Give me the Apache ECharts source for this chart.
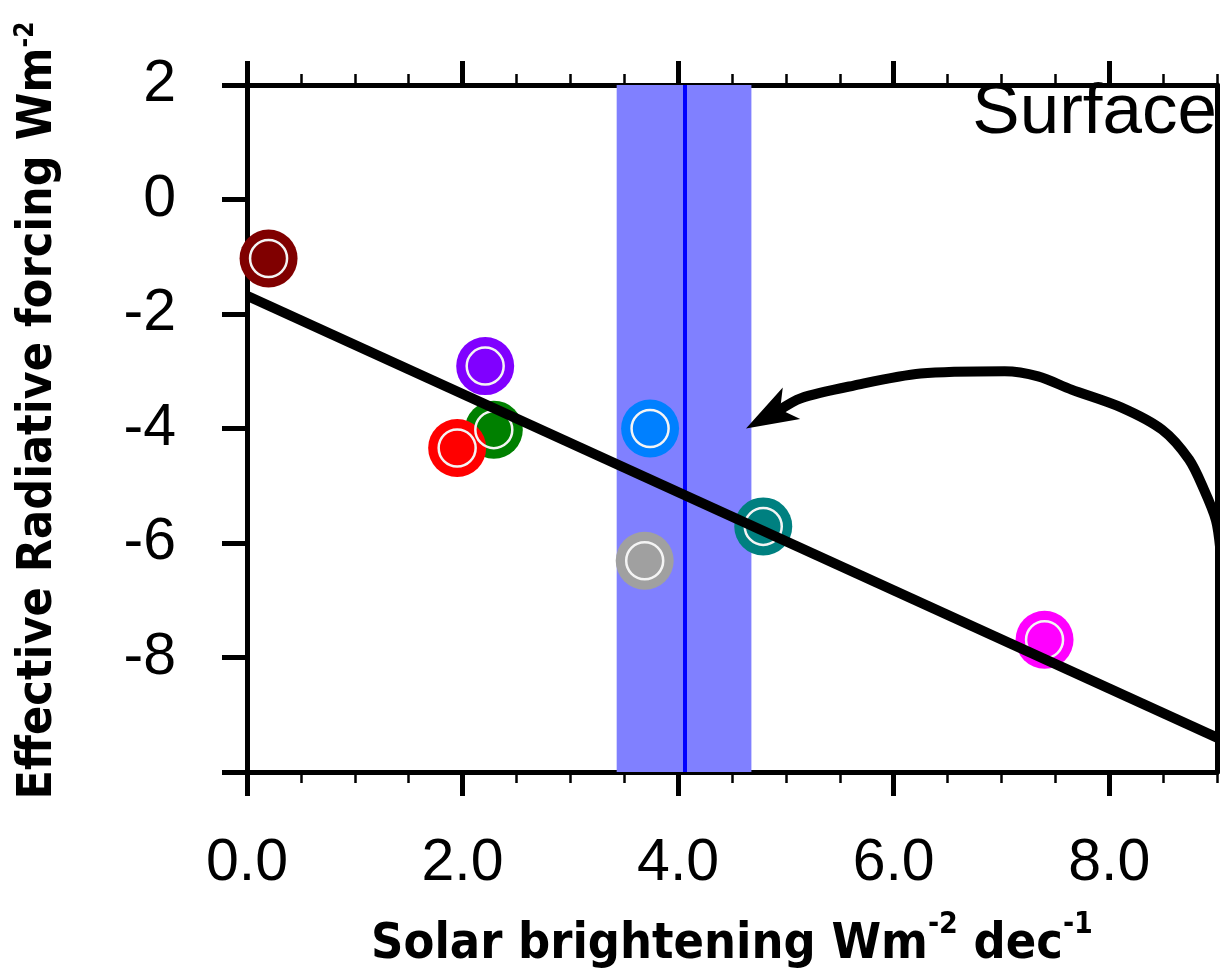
<!DOCTYPE html>
<html>
<head>
<meta charset="utf-8">
<script src="https://cdn.jsdelivr.net/npm/echarts@6/dist/echarts.min.js"></script>
<style>
  html, body { margin: 0; padding: 0; background: #fff; }
  #chart { width: 1220px; height: 979px; }
</style>
</head>
<body>
<div id="chart"></div>
<script>
// model points (solar brightening vs effective radiative forcing)
var modelX = [0.20, 2.21, 2.29, 1.95, 3.74, 3.69, 4.79, 7.40];
var modelY = [-1.03, -2.91, -4.02, -4.34, -4.00, -6.31, -5.71, -7.69];
var modelColors = ['#800000', '#8000ff', '#008000', '#ff0000', '#0080ff', '#a0a0a0', '#008080', '#ff00ff'];

// regression line end points
var fitX = [0, 9];
var fitY = [-1.68, -9.40];

// observed brightening range and mean
var obsRange = [3.43, 4.68];
var obsMean = 4.06;

// hand drawn arrow (data space), tip of the head at arrowTip
var arrowX = [9.03, 8.99, 8.88, 8.74, 8.49, 8.11, 7.65, 7.34, 7.03, 6.25, 5.63, 5.14, 4.93];
var arrowY = [-6.10, -5.60, -5.07, -4.54, -4.02, -3.63, -3.32, -3.09, -3.00, -3.04, -3.25, -3.47, -3.69];
var arrowTip = [4.63, -4.00];

var xTicks = [0, 2, 4, 6, 8];
var yTicks = [2, 0, -2, -4, -6, -8, -10];
var yLabels = [2, 0, -2, -4, -6, -8];

var points = [];
for (var i = 0; i < modelX.length; i++) {
  points.push({ value: [modelX[i], modelY[i]], itemStyle: { color: modelColors[i] } });
}
var rings = [];
for (var j = 0; j < modelX.length; j++) {
  rings.push([modelX[j], modelY[j]]);
}
var fitLine = [];
for (var k = 0; k < fitX.length; k++) {
  fitLine.push([fitX[k], fitY[k]]);
}
var arrowLine = [];
for (var a = 0; a < arrowX.length; a++) {
  arrowLine.push([arrowX[a], arrowY[a]]);
}

var tickFont = 'Liberation Sans, Arial, sans-serif';
var titleFont = "'Liberation Sans Narrow', 'DejaVu Sans Condensed', sans-serif";

function xAxisOf(pos, major) {
  var ax = {
    type: 'value', position: pos, min: 0, max: 9, interval: major ? 2 : 0.5,
    axisLine: { show: major, onZero: false, lineStyle: { color: '#000', width: 5 } },
    axisTick: { show: true, length: major ? 24 : 11, lineStyle: { color: '#000', width: major ? 5 : 2.5 } },
    axisLabel: { show: false },
    splitLine: { show: false }
  };
  if (major) ax.axisTick.customValues = xTicks;
  return ax;
}

var myChart = echarts.init(document.getElementById('chart'));

var option = {
  animation: false,
  backgroundColor: '#fff',
  grid: { left: 247, top: 85, right: 3, bottom: 207, containLabel: false, outerBoundsMode: 'none' },
  title: {
    text: 'Surface', right: 3, top: 78, padding: 0,
    textStyle: { fontFamily: tickFont, fontSize: 71, fontWeight: 'normal', color: '#000' }
  },
  xAxis: [
    (function () {
      var ax = xAxisOf('bottom', true);
      ax.axisLabel = {
        show: true, customValues: xTicks, margin: 62,
        fontFamily: tickFont, fontSize: 59, color: '#000',
        formatter: function (v) { return v.toFixed(1); }
      };
      ax.name = '{m|Solar brightening Wm}{s|-2}{m| dec}{s|-1}';
      ax.nameLocation = 'middle';
      ax.nameGap = 138;
      ax.nameTextStyle = {
        rich: {
          m: { fontFamily: titleFont, fontWeight: 'bold', fontSize: 50, lineHeight: 70, color: '#000' },
          s: { fontFamily: titleFont, fontWeight: 'bold', fontSize: 30, lineHeight: 30, verticalAlign: 'top', color: '#000' }
        }
      };
      return ax;
    })(),
    xAxisOf('bottom', false),
    xAxisOf('top', true),
    xAxisOf('top', false)
  ],
  yAxis: [
    {
      type: 'value', position: 'left', min: -10, max: 2, interval: 2,
      axisLine: { show: true, onZero: false, lineStyle: { color: '#000', width: 5 } },
      axisTick: { show: true, length: 25, customValues: yTicks, lineStyle: { color: '#000', width: 5 } },
      axisLabel: {
        show: true, customValues: yLabels, margin: 71,
        fontFamily: tickFont, fontSize: 59, color: '#000'
      },
      splitLine: { show: false },
      name: '{m|Effective Radiative forcing Wm}{s|-2}',
      nameLocation: 'middle',
      nameGap: 182,
      nameTextStyle: {
        padding: [0, 0, 0, 36],
        rich: {
          m: { fontFamily: titleFont, fontWeight: 'bold', fontSize: 48, lineHeight: 52, color: '#000' },
          s: { fontFamily: titleFont, fontWeight: 'bold', fontSize: 26, lineHeight: 26, verticalAlign: 'top', color: '#000' }
        }
      }
    },
    {
      type: 'value', position: 'right', min: -10, max: 2, interval: 2,
      axisLine: { show: true, onZero: false, lineStyle: { color: '#000', width: 5 } },
      axisTick: { show: false },
      axisLabel: { show: false },
      splitLine: { show: false }
    }
  ],
  series: [
    {
      name: 'fit', type: 'line', z: 6,
      data: fitLine, symbol: 'none', silent: true,
      lineStyle: { color: '#000', width: 10 },
      markArea: {
        silent: true,
        itemStyle: { color: '#8080ff', opacity: 1 },
        data: [[{ xAxis: obsRange[0] }, { xAxis: obsRange[1] }]]
      },
      markLine: {
        silent: true, symbol: 'none',
        label: { show: false },
        lineStyle: { color: '#0000ff', width: 4, type: 'solid' },
        data: [{ xAxis: obsMean }]
      }
    },
    {
      name: 'models', type: 'scatter', z: 3,
      data: points, symbol: 'circle', symbolSize: 58, silent: true,
      itemStyle: { opacity: 1 }
    },
    {
      name: 'rings', type: 'scatter', z: 4,
      data: rings, symbol: 'circle', symbolSize: 37, silent: true,
      itemStyle: { color: 'transparent', borderColor: '#f4f4f4', borderWidth: 2.5, opacity: 1 }
    },
    {
      name: 'arrow', type: 'line', z: 7, clip: false,
      data: arrowLine, smooth: 0.3, symbol: 'none', silent: true,
      lineStyle: { color: '#000', width: 10 }
    },
    {
      name: 'arrowHead', type: 'scatter', z: 7, silent: true,
      data: [arrowTip], symbol: 'arrow', symbolSize: [27, 52], symbolRotate: 119,
      itemStyle: { color: '#000', opacity: 1 }
    }
  ]
};

myChart.setOption(option);
</script>
</body>
</html>
